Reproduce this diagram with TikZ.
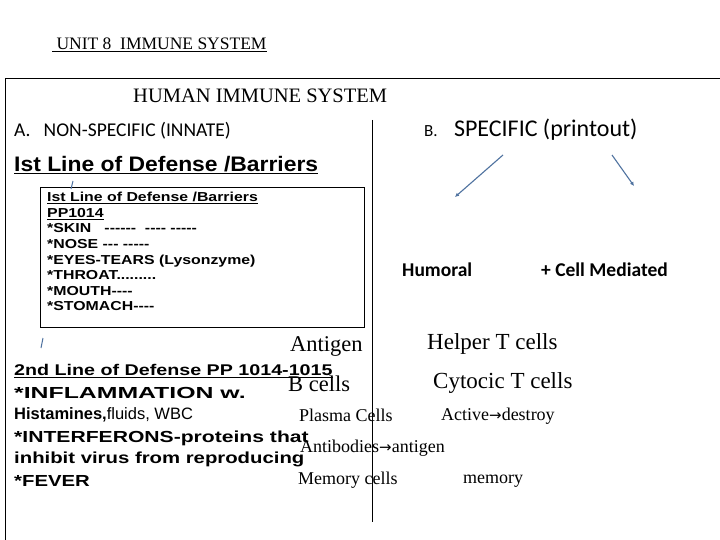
\documentclass[tikz,border=0pt]{standalone}
\usepackage{fontspec}
\usetikzlibrary{arrows.meta}
\setmainfont{Liberation Serif}
\newfontfamily\arf{Liberation Sans}
\newfontfamily\calf{Carlito}
\newfontfamily\dvf{DejaVu Sans}
\newcommand\sxx[2]{\scalebox{#1}[1]{#2}}
\newcommand\fs[1]{\fontsize{#1}{#1}\selectfont}
\begin{document}
\begin{tikzpicture}[x=1pt,y=-1pt,
  lbl/.style={anchor=west,inner sep=0pt},
  blue/.style={draw={rgb,255:red,80;green,115;blue,160},line width=1.1pt,-{Latex[length=4pt,width=4pt]}},
  tick/.style={draw={rgb,255:red,80;green,115;blue,160},line width=1pt}]
\useasboundingbox (0,0) rectangle (720,540);
\fill[white] (0,0) rectangle (720,540);
\node[lbl,font=\fs{17.5}] (unit) at (52,45) {\underline{\ UNIT 8\ \ IMMUNE SYSTEM}};
\draw[line width=0.8pt] (5,540) -- (5,78) -- (720,78);
\draw[line width=0.6pt] (372,120) -- (372,522);
\node[lbl,font=\fs{20.5}] (hum) at (133,96) {HUMAN IMMUNE SYSTEM};
\node[lbl,font=\calf\fs{19.5}] (A) at (14,131) {A.\ \ \ NON-SPECIFIC (INNATE)};
\node[lbl,font=\calf\fs{24}] (B) at (424,130) {{\fs{17}B.}\ \ \ SPECIFIC (printout)};
\node[lbl,font=\arf\bfseries\fs{21}] (first) at (14,165) {\sxx{1.09}{\underline{Ist Line of Defense /Barriers}}};
\draw[line width=0.8pt] (40,187) rectangle (364,327);
\node[lbl,font=\arf\bfseries\fontsize{13}{15.6}\selectfont,align=left,anchor=north west] (box) at (47,192) {\sxx{1.22}{\underline{Ist Line of Defense /Barriers}}\\ \sxx{1.22}{\underline{PP1014}}\\ \sxx{1.22}{*SKIN\ \ \ ------\ \ ---- -----}\\ \sxx{1.22}{*NOSE --- -----}\\ \sxx{1.22}{*EYES-TEARS (Lysonzyme)}\\ \sxx{1.22}{*THROAT.........}\\ \sxx{1.22}{*MOUTH----}\\ \sxx{1.22}{*STOMACH----}};
\coordinate (a1) at (503,155); \coordinate (a2) at (455,197);
\coordinate (b1) at (612,155); \coordinate (b2) at (634,186);
\draw[blue] (a1) -- (a2);
\draw[blue] (b1) -- (b2);
\coordinate (t1) at (73,181); \coordinate (t2) at (71,189);
\coordinate (t3) at (43,338); \coordinate (t4) at (41,348);
\draw[tick] (t1) -- (t2); \draw[tick] (t3) -- (t4);
\node[lbl,font=\calf\bfseries\fs{19.5}] (humo) at (402,270) {Humoral};
\node[lbl,font=\calf\bfseries\fs{19.5}] (cm) at (541,270) {+ Cell Mediated};
\node[lbl,font=\fs{22.5}] (ag) at (290,346) {Antigen};
\node[lbl,font=\fs{23}] (ht) at (427,344) {Helper T cells};
\node[lbl,font=\fs{22.5}] (bc) at (288,384) {B cells};
\node[lbl,font=\fs{23}] (ct) at (433,383) {Cytocic T cells};
\node[lbl,font=\fs{18}] (pc) at (299,415) {Plasma Cells};
\node[lbl,font=\fs{18}] (ad) at (441,416) {Active{\dvf\fs{15}→}destroy};
\node[lbl,font=\fs{18}] (ab) at (300,448) {Antibodies{\dvf\fs{15}→}antigen};
\node[lbl,font=\fs{18}] (mc) at (298,480) {Memory cells};
\node[lbl,font=\fs{18}] (me) at (463,481) {memory};
\node[lbl,font=\arf\bfseries\fs{15.5}] (sec) at (14,371) {\sxx{1.27}{\underline{2nd Line of Defense PP 1014-1015}}};
\node[lbl,font=\arf\bfseries\fs{16}] (inf) at (14,393) {\sxx{1.55}{*INFLAMMATION w.}};
\node[lbl,font=\arf\fs{16.5}] (his) at (14,415) {\textbf{Histamines,}fluids, WBC};
\node[lbl,font=\arf\bfseries\fs{16}] (itf) at (14,438) {\sxx{1.32}{*INTERFERONS-proteins that}};
\node[lbl,font=\arf\bfseries\fs{16}] (inh) at (14,459) {\sxx{1.27}{inhibit virus from reproducing}};
\node[lbl,font=\arf\bfseries\fs{16}] (fev) at (14,481) {\sxx{1.27}{*FEVER}};
\end{tikzpicture}
\end{document}
